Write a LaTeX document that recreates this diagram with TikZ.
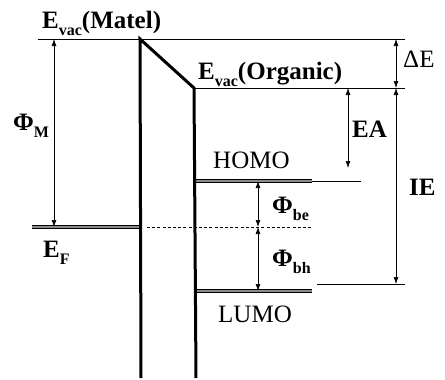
\documentclass[tikz,border=0pt]{standalone}
\usepackage{fontspec}
\setmainfont{Liberation Serif}
\usetikzlibrary{arrows.meta}
\newcommand{\lvsub}[1]{\raisebox{-0.28em}{\fontsize{16}{16}\selectfont\bfseries #1}}

\begin{document}
\begin{tikzpicture}[x=1pt,y=-1pt,
  barrier/.style={line width=3pt, line join=miter},
  level/.style={line width=0.9pt, double=black!45, double distance=1.5pt},
  thinref/.style={line width=0.7pt},
  gap/.style={line width=0.8pt, dashed, dash pattern=on 3pt off 2.2pt},
  dim/.style={line width=0.7pt, {Latex[length=7pt,width=5pt]}-{Latex[length=7pt,width=5pt]}},
  lbl/.style={font=\fontsize{25}{27}\selectfont\bfseries, inner sep=0pt, anchor=base west},
  lblr/.style={font=\fontsize{25}{27}\selectfont, inner sep=0pt, anchor=base west}]
\useasboundingbox (0,0) rectangle (445,380);
% reference points
\coordinate (vm0) at (38,39);
\coordinate (vm1) at (405,39);
\coordinate (mtop) at (140,39);
\coordinate (mbot) at (141,378);
\coordinate (otop) at (194,88);
\coordinate (obot) at (196,378);
\coordinate (vo1) at (405,88);
\coordinate (ef0) at (32,227);
\coordinate (ef1) at (140,227);
\coordinate (ga0) at (147,227);
\coordinate (ga1) at (312,227);
\coordinate (ho0) at (194,181);
\coordinate (ho1) at (312,181);
\coordinate (ho2) at (361,181);
\coordinate (lu0) at (196,291);
\coordinate (lu1) at (312,291);
\coordinate (ie0) at (317,284);
\coordinate (ie1) at (405,284);
% arrow ends
\coordinate (phmT) at (54,39);
\coordinate (phmB) at (54,227);
\coordinate (deT) at (396,39);
\coordinate (deB) at (396,88);
\coordinate (eaT) at (348,88);
\coordinate (eaB) at (348,168);
\coordinate (ieT) at (396,88);
\coordinate (ieB) at (396,284);
\coordinate (beT) at (258,181);
\coordinate (beB) at (258,227);
\coordinate (bhB) at (258,291);

% levels
\draw[thinref] (vm0) -- (vm1);
\draw[thinref] (otop) -- (vo1);
\draw[thinref] (ho1) -- (ho2);
\draw[thinref] (ie0) -- (ie1);
\draw[level] (ef0) -- (ef1);
\draw[level] (ho0) -- (ho1);
\draw[level] (lu0) -- (lu1);
\draw[gap] (ga0) -- (ga1);
\draw[barrier] (mbot) -- (mtop) -- (otop) -- (obot);

% energy differences
\draw[dim] (phmT) -- (phmB);
\draw[dim] (deT) -- (deB);
\draw[dim] (eaT) -- (eaB);
\draw[dim] (ieT) -- (ieB);
\draw[dim] (beT) -- (beB);
\draw[dim] (beB) -- (bhB);

% labels
\node[lbl] (evm) at (42,28) {E\lvsub{vac}(Matel)};
\node[lbl] (evo) at (198,79) {E\lvsub{vac}(Organic)};
\node[lblr] (dE) at (403,67) {ΔE};
\node[lbl] (ea) at (352,137) {EA};
\node[lbl] (ie) at (409,195) {IE};
\node[lblr] (homo) at (213,168) {HOMO};
\node[lblr] (lumo) at (218,322) {LUMO};
\node[lbl] (phm) at (13,130) {Φ\lvsub{M}};
\node[lbl] (ef) at (43,257) {E\lvsub{F}};
\node[lbl] (phbe) at (272,213) {Φ\lvsub{be}};
\node[lbl] (phbh) at (272,266) {Φ\lvsub{bh}};
\end{tikzpicture}
\end{document}
